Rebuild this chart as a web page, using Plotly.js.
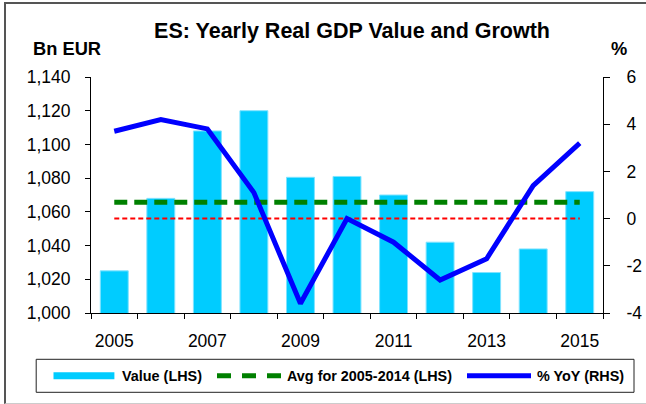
<!DOCTYPE html>
<html>
<head>
<meta charset="utf-8">
<script src="https://cdn.plot.ly/plotly-3.0.1.min.js"></script>
<style>
  body { margin: 0; background: #fff; }
  #wrap { position: relative; width: 646px; height: 404px; overflow: hidden; }
  #chart { width: 646px; height: 404px; }
  #frame {
    position: absolute; left: 4px; top: 2px; width: 700px; height: 399px;
    border-left: 2px solid #555; border-top: 2px solid #555; border-bottom: 1px solid #ccc;
    pointer-events: none;
  }
</style>
</head>
<body>
<div id="wrap">
  <div id="chart"></div>
  <div id="frame"></div>
</div>
<script>
// --- data ---
const years = [2005, 2006, 2007, 2008, 2009, 2010, 2011, 2012, 2013, 2014, 2015];
const gdpValue = [1025, 1068, 1108, 1120, 1080.5, 1081, 1070, 1042, 1024, 1038, 1072];
const yoyGrowth = [3.7, 4.2, 3.8, 1.1, -3.6, 0.0, -1.0, -2.6, -1.7, 1.4, 3.2];
const xLabels = [2005, 2007, 2009, 2011, 2013, 2015];
const pctTicks = [-4, -2, 0, 2, 4, 6];
const pctTickText = ['-4', '-2', '0', '2', '4', '6'];
const legendNames = ['Value (LHS)', 'Avg for 2005-2014 (LHS)', '% YoY (RHS)'];

// average of 2005-2014 values
let avgSpan = gdpValue.slice(0, 10);
let avgValue = avgSpan.reduce((a, b) => a + b, 0) / avgSpan.length;
let avgLine = years.map(() => avgValue);
let zeroLine = years.map(() => 0);

const font = 'Liberation Sans, Arial, sans-serif';
const cyan = '#00CCFF', green = '#008000', blue = '#0000FF';

let traces = [
  {
    type: 'bar', x: years, y: gdpValue, name: legendNames[0],
    marker: { color: cyan, line: { color: '#7fe3ff', width: 1 } }
  },
  {
    type: 'scatter', mode: 'lines', x: years, y: avgLine, name: legendNames[1],
    line: { color: green, width: 5, dash: '13px,7px' }
  },
  {
    type: 'scatter', mode: 'lines', x: years, y: zeroLine, yaxis: 'y2', name: 'zero',
    line: { color: '#FF0000', width: 2, dash: '5px,3px' }
  },
  {
    type: 'scatter', mode: 'lines', x: years, y: yoyGrowth, yaxis: 'y2', name: legendNames[2],
    line: { color: blue, width: 5 }
  }
];

// boxed legend below the plot, laid out in pixels then converted to paper units
const mL = 91, mT = 77, plotW = 512, plotH = 236;
const px = v => (v - mL) / plotW;
const py = v => (mT + plotH - v) / plotH;
const legY = 375.7;
let legendShapes = [
  { type: 'rect', xref: 'paper', yref: 'paper', x0: px(36.2), x1: px(634), y0: py(392.3), y1: py(359.3),
    line: { color: '#222', width: 1 }, fillcolor: 'rgba(0,0,0,0)' },
  { type: 'line', xref: 'paper', yref: 'paper', x0: px(53.5), x1: px(114.4), y0: py(legY), y1: py(legY),
    line: { color: cyan, width: 7 } },
  { type: 'line', xref: 'paper', yref: 'paper', x0: px(217), x1: px(281), y0: py(legY), y1: py(legY),
    line: { color: green, width: 5, dash: '14px,11px' } },
  { type: 'line', xref: 'paper', yref: 'paper', x0: px(467), x1: px(531), y0: py(legY), y1: py(legY),
    line: { color: blue, width: 5 } }
];
let legendTextX = [120.6, 286, 535.8];
let legendLabels = legendNames.map((t, i) => ({
  text: '<b>' + t + '</b>', xref: 'paper', yref: 'paper', x: px(legendTextX[i]), y: py(legY),
  xanchor: 'left', yanchor: 'middle', showarrow: false, borderpad: 0,
  font: { family: font, size: 14.4, color: '#000' }
}));

let layout = {
  width: 646, height: 404,
  margin: { l: mL, r: 646 - mL - plotW, t: mT, b: 404 - mT - plotH },
  paper_bgcolor: '#fff', plot_bgcolor: '#fff',
  font: { family: font, size: 17.5, color: '#000' },
  showlegend: false,
  bargap: 0.4,
  title: {
    text: '<b>ES: Yearly Real GDP Value and Growth</b>',
    font: { family: font, size: 21.5, color: '#000' },
    x: 0.545, xanchor: 'center', y: 0.925, yanchor: 'middle'
  },
  xaxis: {
    range: [2004.5, 2015.5], tickmode: 'array', tickvals: xLabels,
    ticks: '', showgrid: false, zeroline: false,
    showline: true, linecolor: '#000', linewidth: 1,
    ticklabelstandoff: 12,
    minor: { tick0: 2004.5, dtick: 1, ticks: 'outside', ticklen: 5, tickcolor: '#000', showgrid: false }
  },
  yaxis: {
    range: [1000, 1140], dtick: 20, tickformat: ',',
    ticks: 'outside', ticklen: 5, tickcolor: '#000',
    showgrid: false, zeroline: false, showline: true, linecolor: '#000', linewidth: 1,
    ticklabelstandoff: 11
  },
  yaxis2: {
    overlaying: 'y', side: 'right', range: [-4, 6],
    tickmode: 'array', tickvals: pctTicks, ticktext: pctTickText,
    ticks: 'outside', ticklen: 6, tickcolor: '#000',
    showgrid: false, zeroline: false, showline: true, linecolor: '#000', linewidth: 1,
    ticklabelstandoff: 13
  },
  shapes: legendShapes,
  annotations: [
    { text: '<b>Bn EUR</b>', xref: 'paper', yref: 'paper', x: px(31), y: py(48),
      xanchor: 'left', yanchor: 'middle', showarrow: false, font: { family: font, size: 18.3 } },
    { text: '<b>%</b>', xref: 'paper', yref: 'paper', x: px(619), y: py(48),
      xanchor: 'center', yanchor: 'middle', showarrow: false, font: { family: font, size: 18.3 } }
  ].concat(legendLabels)
};

Plotly.newPlot('chart', traces, layout, { displayModeBar: false, staticPlot: true });
</script>
</body>
</html>
